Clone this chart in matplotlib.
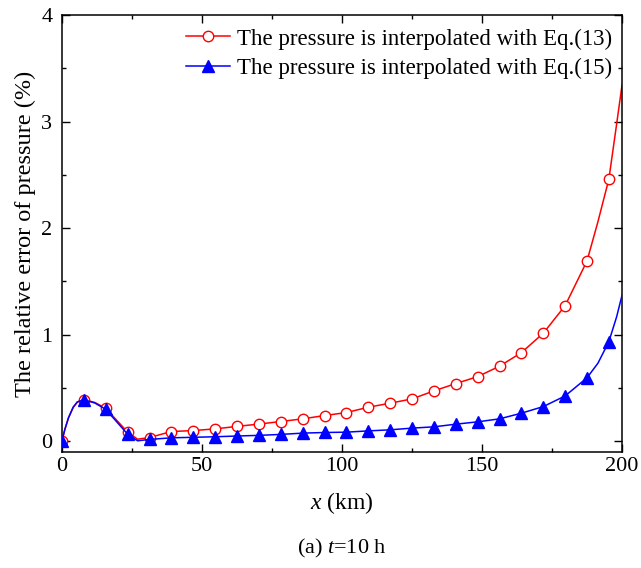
import matplotlib
matplotlib.use("Agg")
import matplotlib.pyplot as plt
from matplotlib.ticker import MultipleLocator
import numpy as np

# marker positions (km) and values (%)
x_km = [0, 7.81, 15.63, 23.44, 31.25, 39.06, 46.88, 54.69, 62.5, 70.31, 78.13,
        85.94, 93.75, 101.56, 109.38, 117.19, 125, 132.81, 140.63, 148.44,
        156.25, 164.06, 171.88, 179.69, 187.5, 195.31]
err_eq13 = [0.005, 0.39, 0.31, 0.086, 0.036, 0.092, 0.101, 0.117, 0.14, 0.162, 0.186,
            0.211, 0.242, 0.270, 0.320, 0.358, 0.398, 0.473, 0.542, 0.607,
            0.705, 0.832, 1.014, 1.273, 1.692, 2.46]
err_eq15 = [0.005, 0.39, 0.30, 0.067, 0.018, 0.033, 0.038, 0.043, 0.05, 0.056, 0.065,
            0.077, 0.083, 0.086, 0.098, 0.108, 0.124, 0.136, 0.161, 0.183,
            0.211, 0.264, 0.326, 0.426, 0.596, 0.935]

# extra points
x_extra = [1.0, 2.3, 4.0, 5.5, 11.7, 27.0, 191.4, 198.1, 200]
err_eq13_extra = [0.11, 0.22, 0.32, 0.37, 0.365, 0.02, 2.06, 2.98, 3.34]
err_eq15_extra = [0.11, 0.22, 0.32, 0.37, 0.36, 0.005, 0.733, 1.17, 1.37]

labels = ["The pressure is interpolated with Eq.(13)",
          "The pressure is interpolated with Eq.(15)"]

plt.rcParams['font.family'] = ['Liberation Serif', 'DejaVu Serif']
plt.rcParams['mathtext.fontset'] = 'custom'
plt.rcParams['mathtext.it'] = 'Liberation Serif:italic'
plt.rcParams['mathtext.rm'] = 'Liberation Serif'

fig = plt.figure(figsize=(6.41, 5.68), dpi=100)
ax = fig.add_axes([62/641, 1-452/568, (622-62)/641, (452-15)/568])


def merged(xm, ym, xe, ye):
    xs = np.array(list(xm) + list(xe))
    ys = np.array(list(ym) + list(ye))
    o = np.argsort(xs)
    return xs[o], ys[o]


lx, ly = merged(x_km, err_eq13, x_extra, err_eq13_extra)
ax.plot(lx, ly, color='#ff0000', lw=1.1, zorder=2)
ax.plot(x_km, err_eq13, ls='none', marker='o', ms=7.5, mfc='white', mec='#ff0000',
        mew=1.0, zorder=3)
lx, ly = merged(x_km, err_eq15, x_extra, err_eq15_extra)
ax.plot(lx, ly, color='#0000ff', lw=1.1, zorder=4)
ax.plot(x_km, err_eq15, ls='none', marker='^', ms=8.5, mfc='#0000ff', mec='#0000ff',
        zorder=5)

# legend proxies
h1, = ax.plot([], [], color='#ff0000', lw=1.1, marker='o', ms=7.5, mfc='white',
              mec='#ff0000', mew=1.0)
h2, = ax.plot([], [], color='#0000ff', lw=1.1, marker='^', ms=8.5, mfc='#0000ff',
              mec='#0000ff')
ax.legend([h1, h2], labels, loc='upper right', frameon=False, fontsize=16.5,
          handlelength=1.92, handletextpad=0.3, labelspacing=0.36,
          borderpad=0.4, borderaxespad=0.05,
          bbox_to_anchor=(1.0, 1.0 - 3/437))

ax.set_xlim(0, 200)
ax.set_ylim(-0.1, 4)
ax.xaxis.set_major_locator(MultipleLocator(50))
ax.xaxis.set_minor_locator(MultipleLocator(25))
ax.yaxis.set_major_locator(MultipleLocator(1))
ax.yaxis.set_minor_locator(MultipleLocator(0.5))
ax.tick_params(which='both', direction='in', top=True, right=True, labelsize=16)
ax.tick_params(which='major', length=6, width=1)
ax.tick_params(which='minor', length=3, width=1)
ax.tick_params(axis='y', which='major', pad=7)
for s in ax.spines.values():
    s.set_linewidth(1.1)

ax.set_xlabel(r'$\mathit{x}$ (km)', fontsize=17, labelpad=10)
ax.set_ylabel('The relative error of pressure (%)', fontsize=17.5)
ax.yaxis.set_label_coords(-0.047, 0.5)
fig.text(342/641, 1-548/568, r'(a) $\mathit{t}$=10 h', ha='center', va='center',
         fontsize=16)

fig.savefig('out.png', dpi=100)
